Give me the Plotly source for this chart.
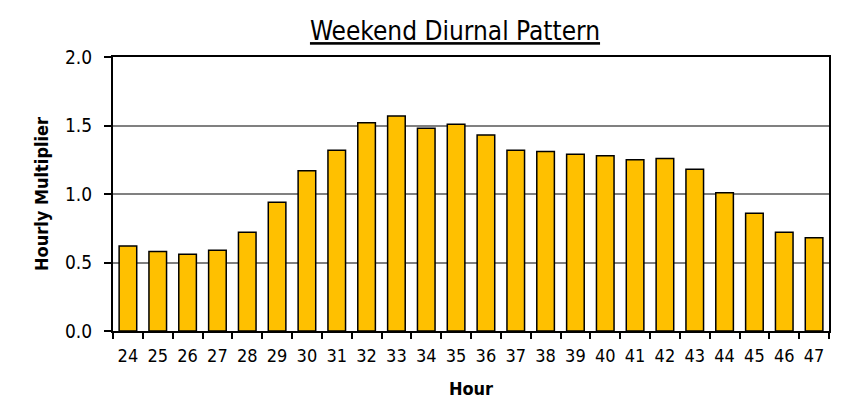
import plotly.graph_objects as go

hours = [str(h) for h in range(24, 48)]
multiplier = [0.62, 0.58, 0.56, 0.59, 0.72, 0.94, 1.17, 1.32, 1.52, 1.57, 1.48, 1.51,
              1.43, 1.32, 1.31, 1.29, 1.28, 1.25, 1.26, 1.18, 1.01, 0.86, 0.72, 0.68]
y_ticks = [0.0, 0.5, 1.0, 1.5, 2.0]
y_tick_text = ["0.0", "0.5", "1.0", "1.5", "2.0"]

FONT = "DejaVu Sans Condensed, Liberation Sans Narrow, Arial Narrow, sans-serif"

fig = go.Figure(go.Bar(
    x=hours, y=multiplier,
    marker=dict(color="#FFC000", line=dict(color="black", width=1.5)),
))

W, H = 842, 394  # page body has an 8px margin
fig.update_layout(
    width=W, height=H,
    margin=dict(l=105, r=21, t=49, b=71),
    paper_bgcolor="white", plot_bgcolor="white",
    bargap=0.41,
    showlegend=False,
    font=dict(family=FONT, size=18, color="black"),
    title=dict(text="<u>Weekend Diurnal Pattern</u>", x=447 / W, xanchor="center",
               y=1 - 23 / H, yanchor="middle",
               font=dict(family=FONT, size=26, color="black")),
)

fig.update_xaxes(
    type="category", tickson="boundaries", ticks="outside", ticklen=6,
    tickwidth=1.5, tickcolor="black", tickangle=0, ticklabelstandoff=7,
    showline=True, linecolor="black", linewidth=2, mirror=True,
    showgrid=False, automargin=False,
    tickfont=dict(family=FONT, size=18),
    title=dict(text="<b>Hour</b>", font=dict(family=FONT, size=18), standoff=18),
)
fig.update_yaxes(
    range=[0, 2.0], tickvals=y_ticks, ticktext=y_tick_text,
    ticks="outside", ticklen=7, tickwidth=1.5, tickcolor="black", ticklabelstandoff=8,
    showline=True, linecolor="black", linewidth=2, mirror=True,
    showgrid=True, gridcolor="#808080", gridwidth=1.5,
    zeroline=False, automargin=False,
    tickfont=dict(family=FONT, size=19),
    title=dict(text="<b>Hourly Multiplier</b>", font=dict(family=FONT, size=18), standoff=12),
)

fig.write_html("out.html")
